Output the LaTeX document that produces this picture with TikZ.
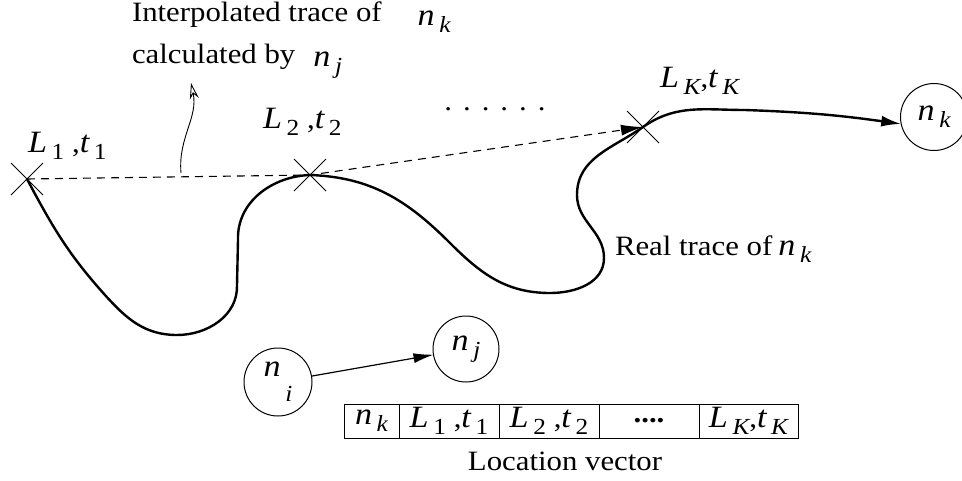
\documentclass[tikz,border=0pt]{standalone}
\usepackage{fontspec}
\setmainfont{Liberation Serif}[FakeStretch=1.1]
\usetikzlibrary{arrows.meta,positioning,shapes.misc}

% italic symbol and lowered index
\newcommand{\sym}[1]{{\fontsize{31}{32}\selectfont\itshape #1}}
\newcommand{\idx}[2][0.25em]{\raisebox{-#1}{\fontsize{23}{23}\selectfont #2}}

\begin{document}
\begin{tikzpicture}[x=1pt,y=-1pt,
  every node/.style={font=\fontsize{28}{30}\selectfont,inner sep=0pt,outer sep=0pt},
  xmark/.style={draw,cross out,minimum size=32pt,line width=0.8pt},
  host/.style={draw,circle,line width=1pt},
  trace/.style={line width=2.4pt,-{Latex[length=20pt,width=11pt]}},
  guess/.style={line width=1.1pt,dash pattern=on 8pt off 6pt,-{Latex[length=22pt,width=11pt]}},
  cell/.style={draw,line width=1pt,minimum height=34pt,anchor=west}]
\useasboundingbox (0,0) rectangle (962,480);

% sampled locations
\node[xmark] (L1) at (27,179) {};
\node[xmark] (L2) at (310,175) {};
\node[xmark] (LK) at (643,127) {};

\node[anchor=base west] (lab1) at (28,152) {\sym{L}\,\idx{1}\;,\sym{t}\,\idx{1}};
\node[anchor=base west] (lab2) at (263,128) {\sym{L}\,\idx{2}\;,\sym{t}\,\idx{2}};
\node[anchor=base west] (labK) at (660,87) {\sym{L}\,\idx{\itshape K},\sym{t}\,\idx{\itshape K}};
\node[anchor=base] (dots) at (495,110) {.\hspace{11pt}.\hspace{11pt}.\hspace{11pt}.\hspace{11pt}.\hspace{11pt}.};

% nodes
\node[host,minimum size=67pt] (nk) at (934,117) {\sym{n}\,\idx{\itshape k}};
\node[host,minimum size=68pt] (ni) at (278,382) {\sym{n}\,\idx[0.9em]{\itshape i}};
\node[host,minimum size=66pt] (nj) at (466,349) {\sym{n}\,\idx{\itshape j}};

% real trace
\draw[trace] (L1.center) to[out=-62,in=132] (105,295) to[out=-48,in=180] (177,335)
  to[out=0,in=-88] (237,285) -- (238,240) to[out=92,in=182] (L2.center)
  to[out=-2,in=135] (450,243) to[out=-45,in=180] (550,293) to[out=0,in=-90] (604,258)
  to[out=90,in=-90] (577,195) to[out=90,in=-145] (LK.center)
  to[out=35,in=180] (745,110) to[out=-2,in=172] (nk.192);

% interpolated trace
\draw[guess] (L1.center) -- (L2.center) -- (LK.center);

\node[anchor=base west] (interp) at (132,21) {Interpolated trace of\hspace{36pt}\raisebox{-4pt}{\sym{n}\,\idx{\itshape k}}};
\node[anchor=base west] (calc) at (132,63) {calculated by\hspace{18pt}\raisebox{-3pt}{\sym{n}\,\idx{\itshape j}}};
\coordinate (pfoot) at (181,173);
\coordinate (ptip) at (191,83);
\draw[line width=0.9pt,-{Stealth[open,length=16pt,width=9pt]}] (pfoot) to[out=95,in=-78] (ptip);

\node[anchor=base west] (real) at (615,255) {Real trace of\hspace{6pt}\sym{n}\,\idx{\itshape k}};

% message
\draw[line width=1.2pt,-{Latex[length=20pt,width=10pt]}] (ni) -- (nj);

% location vector
\node[cell,minimum width=55pt] (c0) at (344,421) {\sym{n}\,\idx{\itshape k}};
\node[cell,minimum width=100pt,right=0pt of c0] (c1) {\sym{L}\,\idx{1}\;,\sym{t}\,\idx{1}};
\node[cell,minimum width=100pt,right=0pt of c1] (c2) {\sym{L}\,\idx{2}\;,\sym{t}\,\idx{2}};
\node[cell,minimum width=100pt,right=0pt of c2] (c3) {\textbf{....}};
\node[cell,minimum width=99pt,right=0pt of c3] (c4) {\sym{L}\,\idx{\itshape K},\sym{t}\,\idx{\itshape K}};
\node[anchor=base] (vec) at (565,470) {Location vector};
\end{tikzpicture}
\end{document}
